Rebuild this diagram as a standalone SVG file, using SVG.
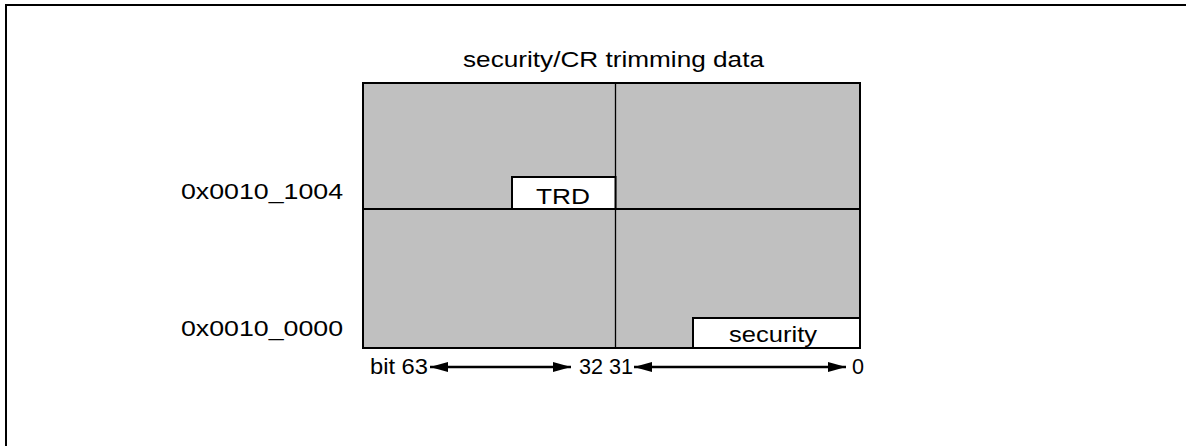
<svg xmlns="http://www.w3.org/2000/svg" width="1186" height="446" viewBox="0 0 1186 446">
<style>
.t{font-family:"Liberation Sans",Arial,sans-serif;font-size:21.5px;fill:#000}
.cell{fill:#c0c0c0;stroke:none}
.box{fill:#fff;stroke:#000;stroke-width:2}
.ln{stroke:#000;fill:none}
</style>
<defs>
<marker id="ah" viewBox="0 0 18 10" refX="18" refY="5" markerWidth="18" markerHeight="10" markerUnits="userSpaceOnUse" orient="auto-start-reverse">
<path d="M0,0 L18,5 L0,10 z" fill="#000"/>
</marker>
</defs>
<rect width="1186" height="446" fill="#fff"/>
<g id="frame">
<path class="ln" d="M6,446 V5 H1186" stroke-width="2"/>
</g>
<g id="title">
<text class="t" x="463" y="67" textLength="301" lengthAdjust="spacingAndGlyphs">security/CR trimming data</text>
</g>
<g id="memory">
<rect class="cell" x="363" y="83" width="497" height="265"/>
<rect x="363" y="83" width="497" height="265" fill="none" stroke="#000" stroke-width="2"/>
<line class="ln" x1="615.5" y1="83" x2="615.5" y2="348" stroke-width="1.3"/>
<line class="ln" x1="363" y1="209" x2="860" y2="209" stroke-width="2"/>
</g>
<g id="trd">
<rect class="box" x="512" y="177" width="103.5" height="32"/>
<text class="t" x="536" y="204" textLength="54" lengthAdjust="spacingAndGlyphs">TRD</text>
</g>
<g id="security">
<rect class="box" x="693" y="318" width="167" height="30"/>
<text class="t" x="729" y="342" textLength="88" lengthAdjust="spacingAndGlyphs">security</text>
</g>
<g id="addr-1004">
<text class="t" x="181" y="199" textLength="162" lengthAdjust="spacingAndGlyphs">0x0010_1004</text>
</g>
<g id="addr-0000">
<text class="t" x="181" y="336" textLength="162" lengthAdjust="spacingAndGlyphs">0x0010_0000</text>
</g>
<g id="bits">
<text class="t" x="370" y="374" textLength="58" lengthAdjust="spacingAndGlyphs">bit 63</text>
<text class="t" x="579" y="374" textLength="54" lengthAdjust="spacingAndGlyphs">32 31</text>
<text class="t" x="852" y="374" textLength="12" lengthAdjust="spacingAndGlyphs">0</text>
</g>
<g id="connectors">
<line class="ln" x1="430" y1="367" x2="571" y2="367" stroke-width="2.5" marker-start="url(#ah)" marker-end="url(#ah)"/>
<line class="ln" x1="634" y1="367" x2="846" y2="367" stroke-width="2.5" marker-start="url(#ah)" marker-end="url(#ah)"/>
</g>
</svg>
